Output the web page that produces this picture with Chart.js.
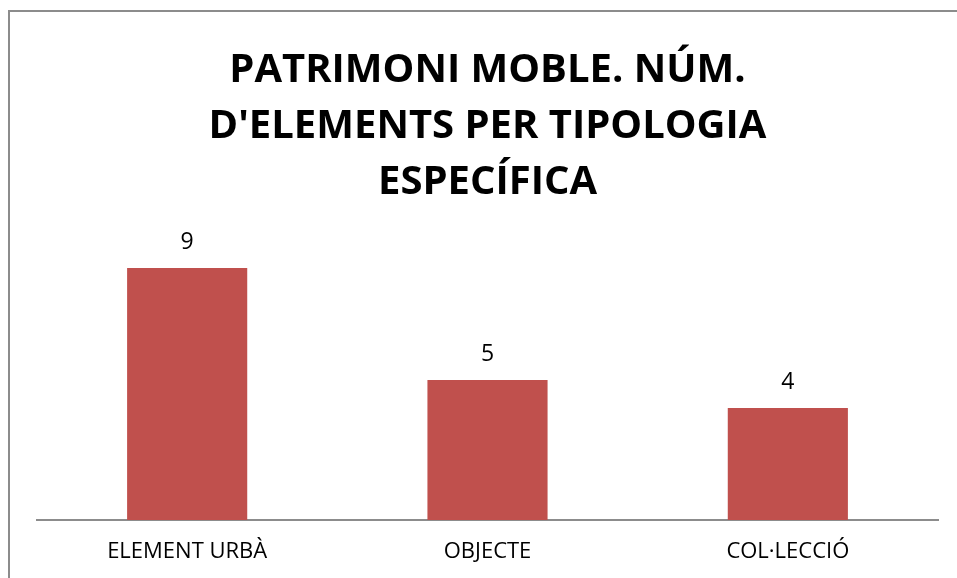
<!DOCTYPE html>
<html><head><meta charset="utf-8">
<script src="https://cdn.jsdelivr.net/npm/chart.js@4/dist/chart.umd.min.js"></script>
<style>
html,body{margin:0;padding:0;background:#fff;}
#wrap{position:absolute;left:0;top:0;width:957px;height:578px;}
#frame{position:absolute;left:8px;top:10px;width:960px;height:580px;border-left:2px solid #8c8c8c;border-top:2px solid #8c8c8c;}
</style></head>
<body>
<div id="frame"></div>
<div id="wrap"><canvas id="c" width="957" height="578"></canvas></div>
<script>
const categories = ["ELEMENT URBÀ", "OBJECTE", "COL·LECCIÓ"];
const values = [9, 5, 4];
const titleLines = ["PATRIMONI MOBLE. NÚM.", "D'ELEMENTS PER TIPOLOGIA", "ESPECÍFICA"];

const valueLabels = {
  id: 'valueLabels',
  afterDatasetsDraw(chart) {
    const ctx = chart.ctx;
    const meta = chart.getDatasetMeta(0);
    ctx.save();
    ctx.font = '23px "Open Sans", sans-serif';
    ctx.fillStyle = '#000';
    ctx.textAlign = 'center';
    ctx.textBaseline = 'middle';
    meta.data.forEach((bar, i) => {
      ctx.fillText(String(values[i]), bar.x, bar.y - 26);
    });
    ctx.restore();
  }
};

new Chart(document.getElementById('c'), {
  type: 'bar',
  data: {
    labels: categories,
    datasets: [{
      data: values,
      backgroundColor: '#C0504D',
      borderWidth: 0,
      barPercentage: 0.4,
      categoryPercentage: 1.0
    }]
  },
  options: {
    responsive: false,
    animation: false,
    layout: { padding: { left: 37, right: 19, top: 0, bottom: 0 } },
    plugins: {
      legend: { display: false },
      tooltip: { enabled: false },
      title: {
        display: true,
        text: titleLines,
        color: '#000',
        font: { family: '"Open Sans", sans-serif', size: 40, weight: 'bold', lineHeight: 1.4 },
        padding: { top: 43, bottom: 29 }
      }
    },
    scales: {
      x: {
        grid: { display: false, drawTicks: false },
        border: { display: true, color: '#8c8c8c', width: 2 },
        ticks: { color: '#000', font: { family: '"Open Sans", sans-serif', size: 22 }, padding: 19 },
        afterFit(scale) { scale.height = 58; }
      },
      y: {
        display: false,
        min: 0,
        max: 10
      }
    }
  },
  plugins: [valueLabels]
});
</script>
</body></html>
